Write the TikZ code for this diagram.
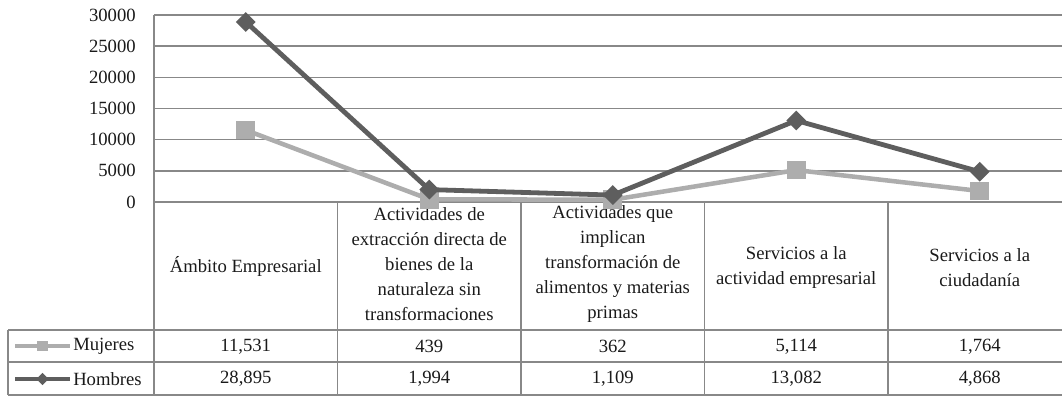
\documentclass[tikz,border=0pt]{standalone}
\usepackage{fontspec}
\setmainfont{Liberation Serif}
\usetikzlibrary{shapes.geometric}
\definecolor{gridc}{HTML}{888888}
\definecolor{mujc}{HTML}{ADADAD}
\definecolor{homc}{HTML}{5E5E5E}
\definecolor{txtc}{HTML}{1A1A1A}
\tikzset{
  gridline/.style={draw=gridc, line width=1.1pt},
  tabline/.style={draw=gridc, line width=1.1pt},
  mujline/.style={draw=mujc, line width=3.4pt, line join=round},
  homline/.style={draw=homc, line width=3.6pt, line join=round},
  mujmark/.style={rectangle, fill=mujc, inner sep=0pt, minimum size=14pt},
  hommark/.style={diamond, fill=homc, inner sep=0pt, minimum size=15pt},
  mujmarksm/.style={rectangle, fill=mujc, inner sep=0pt, minimum width=8.5pt, minimum height=8pt},
  hommarksm/.style={diamond, fill=homc, inner sep=0pt, minimum size=9.5pt},
  lbl/.style={text=txtc, font=\fontsize{14}{18.75}\selectfont, inner sep=0pt},
  hdr/.style={lbl, align=center},
}
\begin{document}
\begin{tikzpicture}[x=0.75pt, y=-0.75pt]
\useasboundingbox (0,0) rectangle (1062,396);
\clip (0,0) rectangle (1062,396);
% grid
\foreach \i/\v in {0/30000,1/25000,2/20000,3/15000,4/10000,5/5000,6/0}{
  \pgfmathsetmacro{\yy}{15+\i*31.1667}
  \draw[gridline] (154,\yy) -- (1080,\yy);
  \node[lbl, anchor=east] (y\i) at (136,\yy) {\v};
}
% table
\draw[tabline] (154,15) -- (154,395);
\foreach \xx in {337.5,521,704.5,888,1071.5}{
  \draw[tabline] (\xx,202) -- (\xx,395);
}
\draw[tabline] (8,330) -- (1080,330);
\draw[tabline] (8,362) -- (1080,362);
\draw[tabline] (8,395) -- (1080,395);
\draw[tabline] (8,330) -- (8,395);
% headers
\node[hdr] (h1) at (245.75,266) {Ámbito Empresarial};
\node[hdr] (h2) at (429.25,264) {Actividades de\\extracción directa de\\bienes de la\\naturaleza sin\\transformaciones};
\node[hdr] (h3) at (612.75,264) {Actividades que\\implican\\transformación de\\alimentos y materias\\primas};
\node[hdr] (h4) at (796.25,268) {Servicios a la\\actividad empresarial};
\node[hdr] (h5) at (979.75,268) {Servicios a la\\ciudadanía};
% data rows
\foreach \xx/\m/\h [count=\k] in {245.75/{11,531}/{28,895},429.25/439/{1,994},612.75/362/{1,109},796.25/{5,114}/{13,082},979.75/{1,764}/{4,868}}{
  \node[lbl] (m\k) at (\xx,346.5) {\m};
  \node[lbl] (n\k) at (\xx,379) {\h};
}
% legend
\coordinate (lm0) at (15,346);
\coordinate (lm1) at (70,346);
\draw[mujline] (lm0) -- (lm1);
\node[mujmarksm] (lmk) at (42.5,346) {};
\node[lbl, anchor=west] (lmt) at (73,346.5) {Mujeres};
\coordinate (lh0) at (15,379);
\coordinate (lh1) at (70,379);
\draw[homline] (lh0) -- (lh1);
\node[hommarksm] (lhk) at (42.5,379) {};
\node[lbl, anchor=west] (lht) at (73,379) {Hombres};
% series: Mujeres
\coordinate (pm1) at (245.75,130.1);
\coordinate (pm2) at (429.25,199.3);
\coordinate (pm3) at (612.75,199.7);
\coordinate (pm4) at (796.25,170.1);
\coordinate (pm5) at (979.75,191.0);
\draw[mujline] (pm1) -- (pm2) -- (pm3) -- (pm4) -- (pm5);
\foreach \k in {1,...,5}{ \node[mujmark] (qm\k) at (pm\k) {}; }
% series: Hombres
\coordinate (ph1) at (245.75,21.9);
\coordinate (ph2) at (429.25,189.6);
\coordinate (ph3) at (612.75,195.1);
\coordinate (ph4) at (796.25,120.5);
\coordinate (ph5) at (979.75,171.7);
\draw[homline] (ph1) -- (ph2) -- (ph3) -- (ph4) -- (ph5);
\foreach \k in {1,...,5}{ \node[hommark] (qh\k) at (ph\k) {}; }
\end{tikzpicture}
\end{document}
